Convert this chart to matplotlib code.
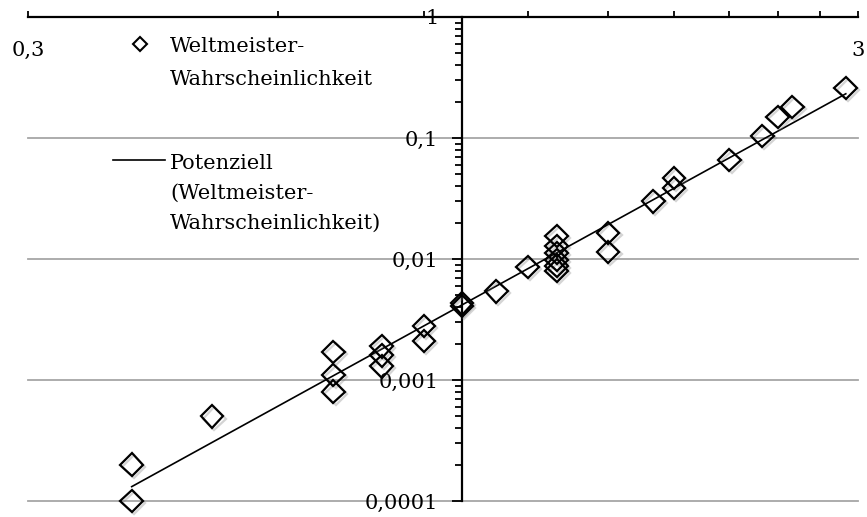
import numpy as np
import matplotlib
matplotlib.use('Agg')
import matplotlib.pyplot as plt
import matplotlib.patheffects as pe
from matplotlib.lines import Line2D
from matplotlib.ticker import FixedLocator, LogLocator, NullFormatter

plt.rcParams['font.family'] = 'DejaVu Serif'
plt.rcParams['font.size'] = 15

# Weltmeister-Wahrscheinlichkeit
staerke = [0.4, 0.4, 0.5,
           0.7, 0.7, 0.7,
           0.8, 0.8, 0.8,
           0.9, 0.9,
           1.0, 1.0, 1.1, 1.2,
           1.3, 1.3, 1.3, 1.3, 1.3, 1.3,
           1.5, 1.5, 1.7, 1.8, 1.8, 2.1, 2.3, 2.4, 2.5, 2.9]
wahrsch = [0.0001, 0.0002, 0.0005,
           0.0017, 0.0011, 0.0008,
           0.0019, 0.0016, 0.0013,
           0.0028, 0.0021,
           0.0041, 0.0043, 0.0054, 0.0086,
           0.0155, 0.0128, 0.0112, 0.0098, 0.0088, 0.0080,
           0.0164, 0.0114, 0.030, 0.0467, 0.0386, 0.0658, 0.104, 0.149, 0.180, 0.259]

x_ticks = [0.3, 3]
x_ticklabels = ['0,3', '3']
x_minor = [0.6, 0.9, 1.2, 1.5, 1.8, 2.1, 2.4, 2.7]
y_ticks = [0.0001, 0.001, 0.01, 0.1, 1]
y_ticklabels = ['0,0001', '0,001', '0,01', '0,1', '1']

W, H = 867, 517
def px(x, y):
    return x / W, 1 - y / H

fig = plt.figure(figsize=(W / 100, H / 100), dpi=100)
ax = fig.add_axes([28 / W, 16 / H, 830 / W, 484 / H])
ax.set_xscale('log')
ax.set_yscale('log')
ax.set_xlim(0.3, 3)
ax.set_ylim(0.0001, 1)

# Potenzielle Trendlinie (Fit in log-log)
xs = np.array(staerke)
ys = np.array(wahrsch)
b, a = np.polyfit(np.log10(xs), np.log10(ys), 1)
xt = np.array([xs.min(), xs.max()])
ax.plot(xt, 10 ** a * xt ** b, color='black', lw=1.2, zorder=4)

shadow = [pe.SimpleLineShadow(offset=(1.5, -1.5), shadow_color='0.45', alpha=0.3), pe.Normal()]
ax.plot(xs, ys, linestyle='none', marker='D', ms=11.5, mfc='none', mec='black',
        mew=1.6, clip_on=False, zorder=5, path_effects=shadow)

# Achsen
for s in ['bottom', 'right']:
    ax.spines[s].set_visible(False)
ax.spines['left'].set_position(('data', 1))
ax.spines['left'].set_linewidth(1.6)
ax.spines['top'].set_linewidth(1.6)

ax.xaxis.set_ticks_position('top')
ax.set_xticks(x_ticks, x_ticklabels)
ax.xaxis.set_minor_locator(FixedLocator(x_minor))
ax.xaxis.set_minor_formatter(NullFormatter())
ax.tick_params(axis='x', which='both', direction='out', length=4, width=1.3,
               labeltop=True, labelbottom=False, pad=-35)

ax.set_yticks(y_ticks, y_ticklabels)
ax.yaxis.set_minor_locator(LogLocator(base=10, subs=np.arange(2, 10)))
ax.yaxis.set_minor_formatter(NullFormatter())
ax.tick_params(axis='y', which='major', direction='out', length=7, width=1.3, pad=10)
ax.tick_params(axis='y', which='minor', direction='out', length=5, width=1.3)

ax.grid(axis='y', which='major', color='#a6a6a6', lw=1.3)
ax.set_axisbelow(True)
for gl in ax.get_ygridlines():
    gl.set_clip_on(False)

# Legende
fig.add_artist(Line2D([px(140, 44)[0]], [px(140, 44)[1]], transform=fig.transFigure,
                      marker='D', ms=7, mfc='none', mec='black', mew=1.5))
fig.text(*px(170, 37), 'Weltmeister-\nWahrscheinlichkeit', ha='left', va='top', linespacing=1.95)
fig.add_artist(Line2D([px(113, 160)[0], px(165, 160)[0]], [px(113, 160)[1], px(165, 160)[1]],
                      transform=fig.transFigure, color='black', lw=1.2))
fig.text(*px(170, 154), 'Potenziell\n(Weltmeister-\nWahrscheinlichkeit)', ha='left', va='top',
         linespacing=1.72)

fig.savefig('out.png', dpi=100)
